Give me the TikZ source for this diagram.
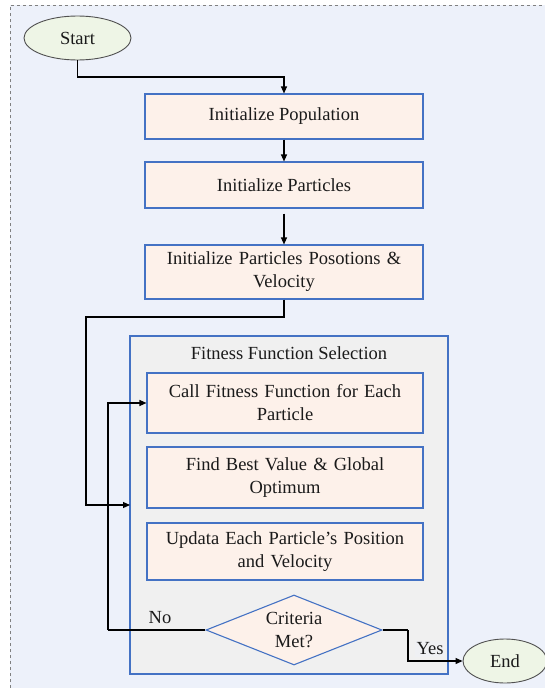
\documentclass[tikz,border=0pt]{standalone}
\usepackage{fontspec}
\setmainfont{Liberation Serif}
\usetikzlibrary{shapes.geometric,arrows.meta}
\definecolor{outerbg}{HTML}{EDF1FA}
\definecolor{grpbg}{HTML}{F0F0F0}
\definecolor{boxbg}{HTML}{FDF1EA}
\definecolor{boxline}{HTML}{4472C4}
\definecolor{termbg}{HTML}{EEF5E6}
\definecolor{termline}{HTML}{505050}
\definecolor{txt}{HTML}{1A1A1A}
\tikzset{
  every node/.style={text=txt, font=\fontsize{18.5}{23}\selectfont},
  procbox/.style={draw=boxline, fill=boxbg, line width=1.1pt, rectangle, inner sep=0pt, align=center},
  term/.style={draw=termline, fill=termbg, line width=0.9pt, ellipse, inner sep=0pt},
  decis/.style={draw=boxline, fill=boxbg, line width=1.1pt, diamond, inner sep=0pt, align=center},
  conn/.style={draw=black, line width=1.1pt},
  arr/.style={conn, -{Triangle[length=7pt,width=6pt]}},
  lbl/.style={fill=grpbg, inner sep=2pt}
}
\begin{document}
\begin{tikzpicture}[x=1pt,y=-1pt]
\useasboundingbox (0,0) rectangle (545,688);
\fill[outerbg] (10,5) rectangle (545,688);
\draw[gray, dashed, line width=0.8pt] (10,688) -- (10,5) -- (545,5);

\node[term, minimum width=107pt, minimum height=44pt] (start) at (77.5,38) {Start};
\node[procbox, minimum width=278pt, minimum height=45pt] (b1) at (284,116.5) {Initialize Population};
\node[procbox, minimum width=278pt, minimum height=46pt] (b2) at (284,185) {Initialize Particles};
\node[procbox, minimum width=278pt, minimum height=54pt, text width=270pt] (b3) at (284,272) {Initialize Particles Posotions \&\\Velocity};

\node[draw=boxline, fill=grpbg, line width=1.1pt, rectangle, minimum width=318pt, minimum height=338pt, inner sep=0pt] (grp) at (289,505) {};
\node (gtitle) at (289,353) {Fitness Function Selection};

\node[procbox, minimum width=276pt, minimum height=60pt, text width=268pt] (ba) at (285,403) {Call Fitness Function for Each\\Particle};
\node[procbox, minimum width=276pt, minimum height=61pt, text width=268pt] (bb) at (285,477.5) {Find Best Value \& Global\\Optimum};
\node[procbox, minimum width=276pt, minimum height=57pt, text width=268pt] (bc) at (285,551.5) {Updata Each Particle’s Position\\and Velocity};

\node[decis, minimum width=176pt, minimum height=70pt, aspect=2.5] (dec) at (294,630) {};
\node[align=center] (dectxt) at (294,630) {Criteria\\Met?};

\node[term, minimum width=84pt, minimum height=44pt] (end) at (505,661) {End};

\coordinate (c1) at (284,77);
\coordinate (c2) at (86,317);
\coordinate (gin) at (130,505);
\coordinate (c3) at (108,630);
\coordinate (c4) at (408,630);

\draw[arr] (start.south) |- (c1) -- (b1.north);
\draw[arr] (b1.south) -- (b2.north);
\draw[arr] ([yshift=-5pt]b2.south) -- (b3.north);
\draw[arr] (b3.south) |- (c2) |- (gin);

\draw[conn] (dec.west) -- (c3);
\draw[arr] (c3) |- (ba.west);
\draw[conn] (dec.east) -- (c4);
\draw[arr] (c4) |- (end.west);

\node[lbl] (no) at (160,618) {No};
\node[lbl, fill=grpbg!60!outerbg, fill opacity=0.8, text opacity=1] (yes) at (430,649) {Yes};
\end{tikzpicture}
\end{document}
